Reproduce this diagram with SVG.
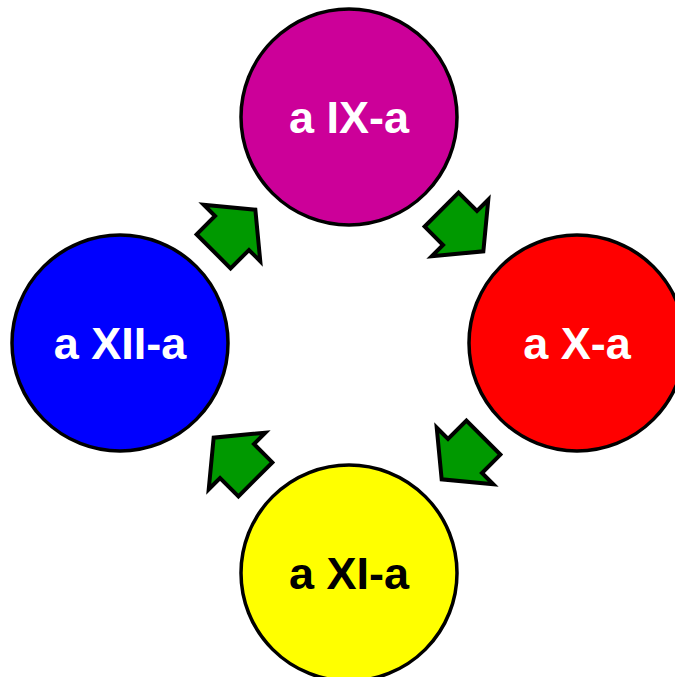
<svg xmlns="http://www.w3.org/2000/svg" width="675" height="677" viewBox="0 0 675 677">
<defs>
<style>
.c{stroke:#000;stroke-width:3.5}
.t{font-family:"Liberation Sans",Arial,sans-serif;font-weight:bold;font-size:45px;text-anchor:middle}
.a{fill:#009900;stroke:#000;stroke-width:4;stroke-linejoin:miter}
</style>
<polygon id="arr" points="-26,-24 0,-24 0,-40 33,0 0,40 0,24 -26,24"/>
</defs>
<rect width="675" height="677" fill="#fff"/>
<g id="connectors">
<use href="#arr" class="a" transform="translate(232,233) rotate(-45)"/>
<use href="#arr" class="a" transform="translate(460,228) rotate(45)"/>
<use href="#arr" class="a" transform="translate(465,456) rotate(135)"/>
<use href="#arr" class="a" transform="translate(237,461) rotate(-135)"/>
</g>
<g id="n9">
<circle class="c" cx="349" cy="117" r="108" fill="#CC0099"/>
<text class="t" x="349" y="133" fill="#fff">a IX-a</text>
</g>
<g id="n10">
<circle class="c" cx="577" cy="343" r="108" fill="#FF0000"/>
<text class="t" x="577" y="359" fill="#fff">a X-a</text>
</g>
<g id="n11">
<circle class="c" cx="349" cy="573" r="108" fill="#FFFF00"/>
<text class="t" x="349" y="589" fill="#000">a XI-a</text>
</g>
<g id="n12">
<circle class="c" cx="120" cy="343" r="108" fill="#0000FF"/>
<text class="t" x="120" y="359" fill="#fff">a XII-a</text>
</g>
</svg>
